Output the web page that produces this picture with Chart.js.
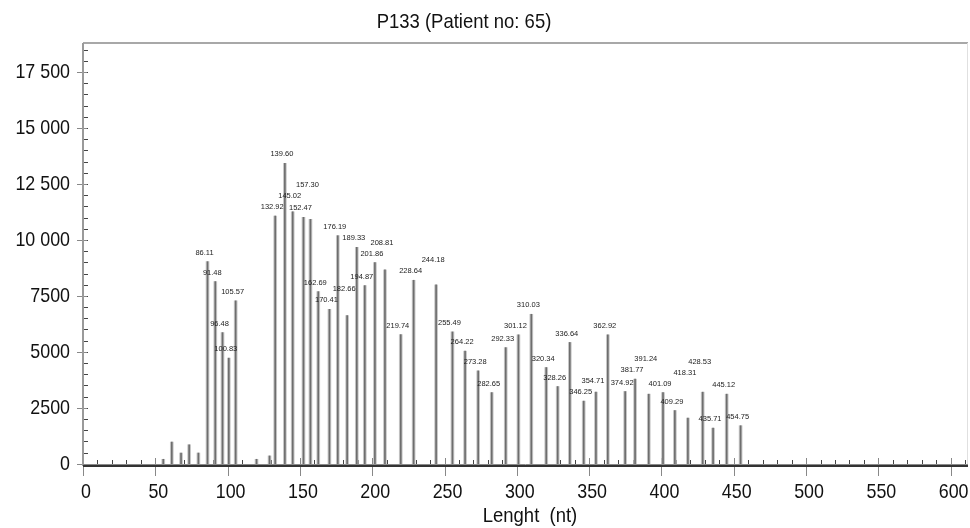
<!DOCTYPE html>
<html>
<head>
<meta charset="utf-8">
<script src="https://cdn.jsdelivr.net/npm/chart.js@4/dist/chart.umd.min.js"></script>
<style>
  html, body { margin: 0; padding: 0; background: #fff; }
  #chart { display: block; }
</style>
</head>
<body>
<canvas id="chart" width="970" height="528"></canvas>
<script>
const chartTitle = 'P133 (Patient no: 65)';
const xTitle = 'Lenght  (nt)';

// labelled peaks (size in nt, height in RFU)
const peakSizes = [86.11, 91.48, 96.48, 100.83, 105.57, 132.92, 139.60, 145.02, 152.47, 157.30,
  162.69, 170.41, 176.19, 182.66, 189.33, 194.87, 201.86, 208.81, 219.74, 228.64,
  244.18, 255.49, 264.22, 273.28, 282.65, 292.33, 301.12, 310.03, 320.34, 328.26,
  336.64, 346.25, 354.71, 362.92, 374.92, 381.77, 391.24, 401.09, 409.29, 418.31,
  428.53, 435.71, 445.12, 454.75];
const peakHeights = [9030, 8140, 5860, 4720, 7280, 11070, 13420, 11260, 11010, 10920,
  7690, 6900, 10190, 6620, 9670, 7960, 8990, 8660, 5770, 8200,
  7990, 5890, 5030, 4150, 3180, 5190, 5760, 6680, 4300, 3450,
  5420, 2800, 3200, 5760, 3230, 3780, 3110, 3180, 2380, 2040,
  3200, 1590, 3110, 1700];

// small unlabelled peaks
const minorSizes = [55.5, 61.4, 67.8, 73.4, 79.8, 120, 129];
const minorHeights = [200, 970, 480, 850, 480, 200, 350];

const yTicks = [0, 2500, 5000, 7500, 10000, 12500, 15000, 17500];
const xTicks = [0, 50, 100, 150, 200, 250, 300, 350, 400, 450, 500, 550, 600];

const sans = '"Liberation Sans", Arial, sans-serif';

const toPoints = (xs, ys) => xs.map((x, i) => ({ x: x, y: ys[i] }));
const allPeaks = toPoints(minorSizes, minorHeights).concat(toPoints(peakSizes, peakHeights));

const fmtY = v => (v >= 10000 ? String(v).replace(/(\d{3})$/, ' $1') : String(v));

// narrow text: Liberation Sans squeezed horizontally
function narrowText(ctx, text, x, y, size, align, squeeze) {
  ctx.save();
  ctx.font = size + 'px ' + sans;
  ctx.textAlign = align;
  ctx.textBaseline = 'middle';
  ctx.translate(x, y);
  ctx.scale(squeeze, 1);
  ctx.fillText(text, 0, 0);
  ctx.restore();
}

function line(ctx, x1, y1, x2, y2) {
  ctx.beginPath();
  ctx.moveTo(x1, y1);
  ctx.lineTo(x2, y2);
  ctx.stroke();
}

const decor = {
  id: 'decor',
  beforeDatasetsDraw(chart) {
    const { ctx, chartArea: a, scales } = chart;
    const xs = scales.x, ys = scales.y;
    ctx.save();
    // frame
    ctx.strokeStyle = '#a8a8a8';
    ctx.lineWidth = 2;
    line(ctx, a.left, a.top, a.right, a.top);
    ctx.strokeStyle = '#e0e0e0';
    ctx.lineWidth = 1;
    line(ctx, a.right - 0.5, a.top, a.right - 0.5, a.bottom);
    // y minor ticks
    ctx.strokeStyle = '#444';
    for (let v = 500; v < 18800; v += 500) {
      const py = Math.round(ys.getPixelForValue(v)) + 0.5;
      line(ctx, a.left, py, a.left + 5, py);
    }
    // y major ticks
    ctx.strokeStyle = '#888';
    yTicks.forEach(v => {
      const py = Math.round(ys.getPixelForValue(v)) + 0.5;
      line(ctx, a.left - 6, py, a.left + 4, py);
    });
    // x minor ticks
    ctx.strokeStyle = '#444';
    for (let v = 10; v < 612; v += 10) {
      const px = Math.round(xs.getPixelForValue(v)) + 0.5;
      line(ctx, px, a.bottom, px, a.bottom - 6);
    }
    // x major ticks
    ctx.strokeStyle = '#888';
    xTicks.forEach(v => {
      const px = Math.round(xs.getPixelForValue(v)) + 0.5;
      line(ctx, px, a.bottom - 8, px, a.bottom + 10);
    });
    // axes
    ctx.strokeStyle = '#9a9a9a';
    ctx.lineWidth = 2;
    line(ctx, a.left, a.top, a.left, a.bottom);
    ctx.strokeStyle = '#8a8a8a';
    ctx.lineWidth = 1;
    const y0 = Math.round(ys.getPixelForValue(0)) + 0.5;
    line(ctx, a.left, y0, a.right, y0);
    ctx.strokeStyle = '#333';
    ctx.lineWidth = 2;
    line(ctx, a.left, a.bottom, a.right, a.bottom);
    // tick labels and titles
    ctx.fillStyle = '#111';
    yTicks.forEach(v => narrowText(ctx, fmtY(v), 70, ys.getPixelForValue(v), 21, 'right', 0.85));
    xTicks.forEach(v => narrowText(ctx, String(v), xs.getPixelForValue(v) + 3, 492, 21, 'center', 0.85));
    narrowText(ctx, chartTitle, 464, 22, 21, 'center', 0.88);
    narrowText(ctx, xTitle, 530, 516, 21, 'center', 0.88);
    ctx.restore();
  },
  afterDatasetsDraw(chart) {
    const { ctx, scales } = chart;
    const placed = [];
    ctx.save();
    ctx.font = '7.5px ' + sans;
    ctx.fillStyle = '#222';
    ctx.textAlign = 'center';
    ctx.textBaseline = 'middle';
    peakSizes.forEach((s, i) => {
      const px = scales.x.getPixelForValue(s) - 3;
      let py = scales.y.getPixelForValue(peakHeights[i]) - 9;
      let hit = placed.find(p => Math.abs(p.x - px) < 25 && Math.abs(p.y - py) < 11);
      while (hit) {
        py = hit.y - 11;
        hit = placed.find(p => Math.abs(p.x - px) < 25 && Math.abs(p.y - py) < 11);
      }
      placed.push({ x: px, y: py });
      ctx.fillText(s.toFixed(2), px, py);
    });
    ctx.restore();
  }
};

const noPad = s => {
  s.paddingLeft = 0;
  s.paddingRight = 0;
  s.paddingTop = 0;
  s.paddingBottom = 0;
};

new Chart(document.querySelector('#chart'), {
  type: 'bar',
  data: {
    datasets: [
      {
        data: allPeaks,
        backgroundColor: '#c6c6c6',
        barThickness: 3,
        grouped: false,
        order: 2,
      },
      {
        data: allPeaks,
        backgroundColor: '#6e6e6e',
        barThickness: 1,
        grouped: false,
        order: 1,
      },
    ],
  },
  options: {
    responsive: false,
    animation: false,
    layout: { padding: { top: 43, right: 2, left: 0, bottom: 0 } },
    plugins: {
      legend: { display: false },
      tooltip: { enabled: false },
    },
    scales: {
      x: {
        type: 'linear',
        min: 0,
        max: 612,
        offset: false,
        grid: { display: false, drawTicks: false },
        border: { display: false },
        ticks: { display: false },
        afterFit: s => { s.height = 62; noPad(s); },
      },
      y: {
        min: -100,
        max: 18800,
        grid: { display: false, drawTicks: false },
        border: { display: false },
        ticks: { display: false },
        afterFit: s => { s.width = 83; noPad(s); },
      },
    },
  },
  plugins: [decor],
});
</script>
</body>
</html>
